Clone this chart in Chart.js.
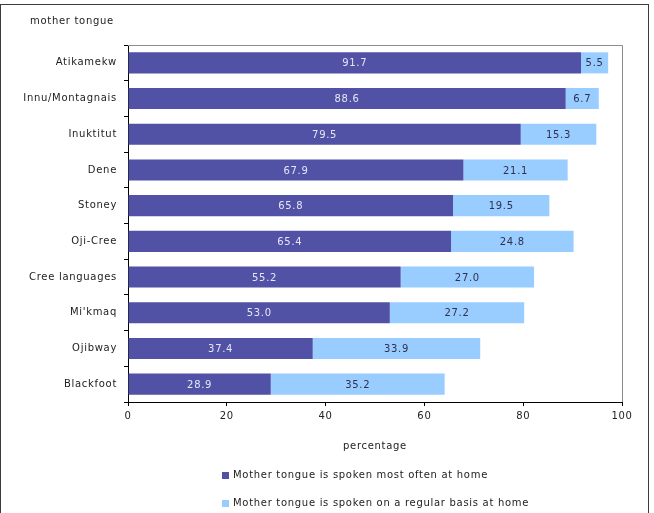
<!DOCTYPE html>
<html>
<head>
<meta charset="utf-8">
<script src="https://cdn.jsdelivr.net/npm/chart.js@4"></script>
<style>
  body { margin: 0; background: #fff; }
  canvas { display: block; }
</style>
</head>
<body>
<canvas id="langChart" width="654" height="513"></canvas>
<script>
const languages = ['Atikamekw', 'Innu/Montagnais', 'Inuktitut', 'Dene', 'Stoney', 'Oji-Cree',
  'Cree languages', "Mi'kmaq", 'Ojibway', 'Blackfoot'];
const mostOften = [91.7, 88.6, 79.5, 67.9, 65.8, 65.4, 55.2, 53.0, 37.4, 28.9];
const regularBasis = [5.5, 6.7, 15.3, 21.1, 19.5, 24.8, 27.0, 27.2, 33.9, 35.2];
const seriesNames = ['Mother tongue is spoken most often at home',
  'Mother tongue is spoken on a regular basis at home'];
const xTicks = [0, 20, 40, 60, 80, 100];

const darkColor = '#5151a6';
const lightColor = '#99ccff';
const fontFamily = '"DejaVu Sans", Verdana, sans-serif';

// outer frame, plot frame, heading and legend
const decorPlugin = {
  id: 'decor',
  beforeDraw(chart) {
    const ctx = chart.ctx;
    // the original text is set a bit loose
    ctx.letterSpacing = '0.7px';
    ctx.save();
    ctx.strokeStyle = '#3c3c3c';
    ctx.lineWidth = 1;
    ctx.strokeRect(0.5, 4.5, 648, 530);
    ctx.restore();
  },
  afterDraw(chart) {
    const ctx = chart.ctx;
    const a = chart.chartArea;
    ctx.save();
    // top and right edge of plot area
    ctx.strokeStyle = '#8c8c8c';
    ctx.lineWidth = 1;
    ctx.beginPath();
    ctx.moveTo(a.left, a.top + 0.5);
    ctx.lineTo(a.right + 0.5, a.top + 0.5);
    ctx.lineTo(a.right + 0.5, a.bottom);
    ctx.stroke();

    ctx.font = '10px ' + fontFamily;
    ctx.fillStyle = '#222';
    ctx.textBaseline = 'middle';
    ctx.textAlign = 'left';
    ctx.fillText('mother tongue', 30, 21);

    // legend
    const colors = [darkColor, lightColor];
    const rows = [475, 503];
    seriesNames.forEach((name, i) => {
      ctx.fillStyle = colors[i];
      ctx.fillRect(222, rows[i] - 3, 7, 7);
      ctx.fillStyle = '#222';
      ctx.fillText(name, 233, rows[i]);
    });
    ctx.restore();
  }
};

// value labels centred in each segment
const valueLabels = {
  id: 'valueLabels',
  afterDatasetsDraw(chart) {
    const ctx = chart.ctx;
    ctx.save();
    ctx.font = '10px ' + fontFamily;
    ctx.textAlign = 'center';
    ctx.textBaseline = 'middle';
    chart.data.datasets.forEach((ds, di) => {
      const meta = chart.getDatasetMeta(di);
      ctx.fillStyle = di === 0 ? '#e6e6f5' : '#303050';
      meta.data.forEach((bar, i) => {
        const p = bar.getProps(['x', 'y', 'base'], true);
        ctx.fillText(ds.data[i].toFixed(1), (p.x + p.base) / 2, p.y + 1);
      });
    });
    ctx.restore();
  }
};

new Chart(document.getElementById('langChart'), {
  type: 'bar',
  data: {
    labels: languages,
    datasets: [
      { label: seriesNames[0], data: mostOften, backgroundColor: darkColor,
        categoryPercentage: 1, barPercentage: 0.59 },
      { label: seriesNames[1], data: regularBasis, backgroundColor: lightColor,
        categoryPercentage: 1, barPercentage: 0.59 }
    ]
  },
  options: {
    indexAxis: 'y',
    responsive: false,
    animation: false,
    layout: { padding: { top: 45, right: 32, left: 0, bottom: 0 } },
    plugins: {
      legend: { display: false },
      tooltip: { enabled: false }
    },
    scales: {
      x: {
        stacked: true,
        min: 0,
        max: 100,
        afterBuildTicks(scale) { scale.ticks = xTicks.map(v => ({ value: v })); },
        afterFit(scale) { scale.height = 111; },
        grid: { drawOnChartArea: false, drawTicks: true, tickLength: 4, color: '#000' },
        border: { color: '#000' },
        ticks: { color: '#222', padding: 4, font: { family: fontFamily, size: 10 } },
        title: {
          display: true,
          text: 'percentage',
          color: '#222',
          font: { family: fontFamily, size: 10 },
          padding: { top: 0, bottom: 61 }
        }
      },
      y: {
        stacked: true,
        afterFit(scale) { scale.width = 128; },
        grid: { drawOnChartArea: false, drawTicks: true, tickLength: 4, color: '#000' },
        border: { color: '#000' },
        ticks: { color: '#222', padding: 7, font: { family: fontFamily, size: 10 } }
      }
    }
  },
  plugins: [decorPlugin, valueLabels]
});
</script>
</body>
</html>
